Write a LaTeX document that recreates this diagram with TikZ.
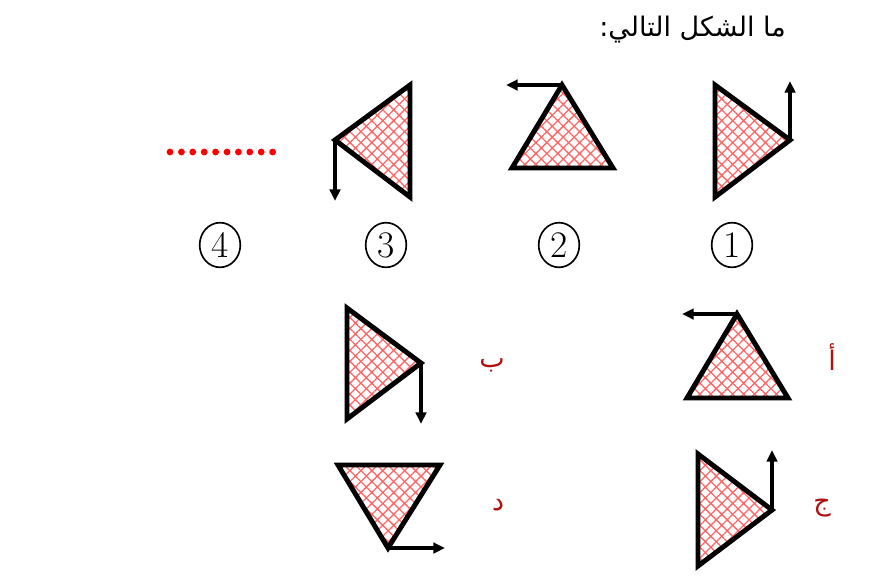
\documentclass[tikz,border=0pt]{standalone}
\usepackage{fontspec}
\usepackage{xcolor}
\usepackage{tikz}
\usetikzlibrary{arrows.meta, shapes.geometric, patterns.meta}
\newfontfamily\arabicfont[Script=Arabic]{DejaVu Sans}
\TeXXeTstate=1
\definecolor{labred}{HTML}{B01010}

\begin{document}
\begin{tikzpicture}[x=0.03cm, y=-0.03cm,
    tri/.style={line width=4.2pt, line join=miter, pattern={Hatch[angle=45, distance=6.6pt, line width=1.1pt]}, pattern color=red!60},
    turn/.style={line width=3.2pt, -{Triangle[length=10pt, width=9pt]}},
    num/.style={ellipse, draw, line width=1.4pt, inner sep=0pt, minimum width=1.22cm, minimum height=1.34cm, font=\fontsize{32}{34}\selectfont},
    opt/.style={text=labred, font=\arabicfont\fontsize{23}{28}\selectfont}]
          \useasboundingbox (0,0) rectangle (874,580);

          \node[anchor=base east, font=\arabicfont\fontsize{23}{28}\selectfont] (title) at (790,36) {\beginR ما الشكل التالي:\endR};

          % sequence
          \coordinate (a1) at (715,85);  \coordinate (b1) at (715,197); \coordinate (c1) at (790,140); \coordinate (e1) at (790,81);
          \coordinate (a2) at (562,85);  \coordinate (b2) at (512,168); \coordinate (c2) at (613,168); \coordinate (e2) at (506,85);
          \coordinate (a3) at (410,85);  \coordinate (b3) at (410,197); \coordinate (c3) at (335,140); \coordinate (e3) at (335,201);

          \draw[tri] (a1) -- (c1) -- (b1) -- cycle;
          \draw[turn] (c1) -- (e1);
          \draw[tri] (a2) -- (c2) -- (b2) -- cycle;
          \draw[turn] (a2) -- (e2);
          \draw[tri] (a3) -- (b3) -- (c3) -- cycle;
          \draw[turn] (c3) -- (e3);

          \foreach \i in {0,...,9}
            \fill[red] (170+\i*11.4,152) circle (3.4);

          \node[num] (n1) at (732,245) {1};
          \node[num] (n2) at (559,245) {2};
          \node[num] (n3) at (386,245) {3};
          \node[num] (n4) at (220,245) {4};

          % choices
          \coordinate (pa) at (737,314); \coordinate (qa) at (687,398); \coordinate (ra) at (788,398); \coordinate (ea) at (682,314);
          \coordinate (pb) at (347,308); \coordinate (qb) at (347,419); \coordinate (rb) at (421,363); \coordinate (eb) at (421,424);
          \coordinate (pc) at (698,454); \coordinate (qc) at (698,566); \coordinate (rc) at (772,510); \coordinate (ec) at (772,450);
          \coordinate (pd) at (338,465); \coordinate (qd) at (440,465); \coordinate (rd) at (388,548); \coordinate (ed) at (445,548);

          \draw[tri] (pa) -- (ra) -- (qa) -- cycle;
          \draw[turn] (pa) -- (ea);
          \draw[tri] (pb) -- (rb) -- (qb) -- cycle;
          \draw[turn] (rb) -- (eb);
          \draw[tri] (pc) -- (rc) -- (qc) -- cycle;
          \draw[turn] (rc) -- (ec);
          \draw[tri] (pd) -- (qd) -- (rd) -- cycle;
          \draw[turn] (rd) -- (ed);

          \node[opt] (la) at (832,357) {\beginR أ\endR};
          \node[opt] (lb) at (492,365) {\beginR ب\endR};
          \node[opt] (lc) at (822,508) {\beginR ج\endR};
          \node[opt] (ld) at (498,505) {\beginR د\endR};
        \end{tikzpicture}
\end{document}
